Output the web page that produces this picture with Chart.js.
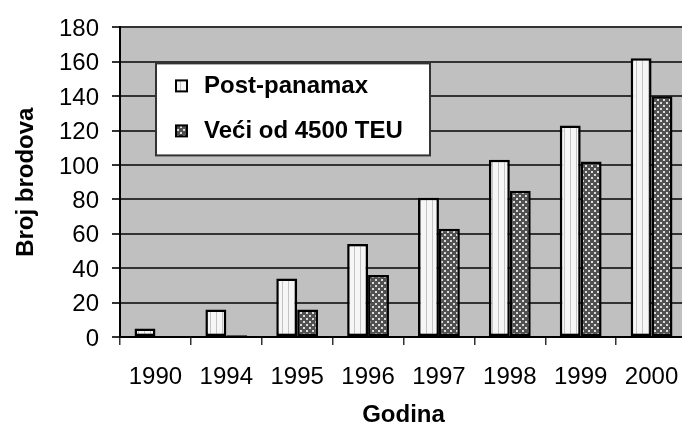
<!DOCTYPE html>
<html>
<head>
<meta charset="utf-8">
<script src="https://cdn.jsdelivr.net/npm/chart.js@4"></script>
<style>
    html, body { margin: 0; padding: 0; background: #fff; overflow: hidden; }
    #wrap { width: 692px; height: 430px; }
</style>
</head>
<body>
<div id="wrap"><canvas id="chart"></canvas></div>
<script>
'use strict';

const years = ['1990', '1994', '1995', '1996', '1997', '1998', '1999', '2000'];
const post_panamax = [5, 16, 34, 54, 81, 103, 123, 162];
const veci_od_4500 = [0, 1, 16, 36, 63, 85, 102, 140];
const series_labels = ['Post-panamax', 'Veći od 4500 TEU'];

const font_family = "'Liberation Sans', Arial, sans-serif";

const make_pattern = (w, h, draw) => {
    const tile = document.createElement('canvas');
    tile.width = w;
    tile.height = h;
    draw(tile.getContext('2d'));
    return tile.getContext('2d').createPattern(tile, 'repeat');
}

// light bars: near white with thin grey vertical stripes
const striped = make_pattern(6, 1, ctx => {
    ctx.fillStyle = '#f6f6f6';
    ctx.fillRect(0, 0, 6, 1);
    ctx.fillStyle = '#c4c4c4';
    ctx.fillRect(0, 0, 1, 1);
});

// dark bars: grey with light dots in a checker layout
const dotted = make_pattern(6, 6, ctx => {
    ctx.fillStyle = '#505050';
    ctx.fillRect(0, 0, 6, 6);
    ctx.fillStyle = '#dcdcdc';
    ctx.fillRect(0, 0, 2, 2);
    ctx.fillRect(3, 3, 2, 2);
});

const plot_background = {
    id: 'plot_background',
    beforeDraw: chart => {
        const { ctx, chartArea: a } = chart;
        ctx.save();
        ctx.fillStyle = '#c0c0c0';
        ctx.fillRect(a.left, a.top, a.right - a.left, a.bottom - a.top);
        ctx.restore();
    }
}

// legend box sits inside the plot, drawn on top of the grid
const boxed_legend = {
    id: 'boxed_legend',
    beforeDatasetsDraw: chart => {
        const { ctx, chartArea: a } = chart;
        const x = a.left + 36, y = a.top + 36, w = 274, h = 92;
        ctx.save();
        ctx.fillStyle = '#fff';
        ctx.fillRect(x, y, w, h);
        ctx.strokeStyle = '#333';
        ctx.lineWidth = 2;
        ctx.strokeRect(x, y, w, h);
        ctx.font = `bold 24px ${font_family}`;
        ctx.textBaseline = 'middle';
        chart.data.datasets.forEach((ds, i) => {
            const cy = y + 23 + i * 45;
            ctx.fillStyle = ds.backgroundColor;
            ctx.fillRect(x + 20, cy - 6, 11, 11);
            ctx.strokeStyle = '#000';
            ctx.lineWidth = 2;
            ctx.strokeRect(x + 20, cy - 6, 11, 11);
            ctx.fillStyle = '#000';
            ctx.fillText(ds.label, x + 48, cy);
        });
        ctx.restore();
    }
}

new Chart(document.querySelector('#chart'), {
    type: 'bar',
    data: {
        labels: years,
        datasets: [{
            label: series_labels[0],
            data: post_panamax,
            backgroundColor: striped,
            borderColor: '#000',
            borderWidth: 2.5,
            borderSkipped: false
        }, {
            label: series_labels[1],
            data: veci_od_4500,
            backgroundColor: dotted,
            borderColor: '#000',
            borderWidth: 2.5,
            borderSkipped: false
        }]
    },
    options: {
        responsive: true,
        maintainAspectRatio: false,
        animation: false,
        datasets: { bar: { categoryPercentage: 0.59, barPercentage: 1 } },
        layout: { padding: { top: 25, right: 5, left: 0, bottom: 0 } },
        plugins: {
            legend: { display: false },
            tooltip: { enabled: false }
        },
        scales: {
            x: {
                // the plot runs past the right edge of the picture, so no label padding
                afterFit: scale => {
                    scale.height = 93;
                    scale.paddingLeft = 0;
                    scale.paddingRight = 0;
                },
                grid: { drawOnChartArea: false, drawTicks: true, tickLength: 8, color: '#333', lineWidth: 1.5, offset: true },
                border: { color: '#000', width: 2 },
                ticks: { color: '#000', padding: 18, font: { family: font_family, size: 24 } },
                title: { display: true, text: 'Godina', color: '#000', padding: { top: 0, bottom: 0 }, font: { family: font_family, size: 24, weight: 'bold' } }
            },
            y: {
                min: 0,
                max: 180,
                afterFit: scale => { scale.width = 120; },
                grid: { color: '#333', lineWidth: 2, tickLength: 8 },
                border: { color: '#000', width: 2 },
                ticks: { stepSize: 20, color: '#000', padding: 13, labelOffset: 2, font: { family: font_family, size: 24 } },
                title: { display: true, text: 'Broj brodova', color: '#000', padding: { top: 12, bottom: 0 }, font: { family: font_family, size: 24, weight: 'bold' } }
            }
        }
    },
    plugins: [plot_background, boxed_legend]
});
</script>
</body>
</html>
